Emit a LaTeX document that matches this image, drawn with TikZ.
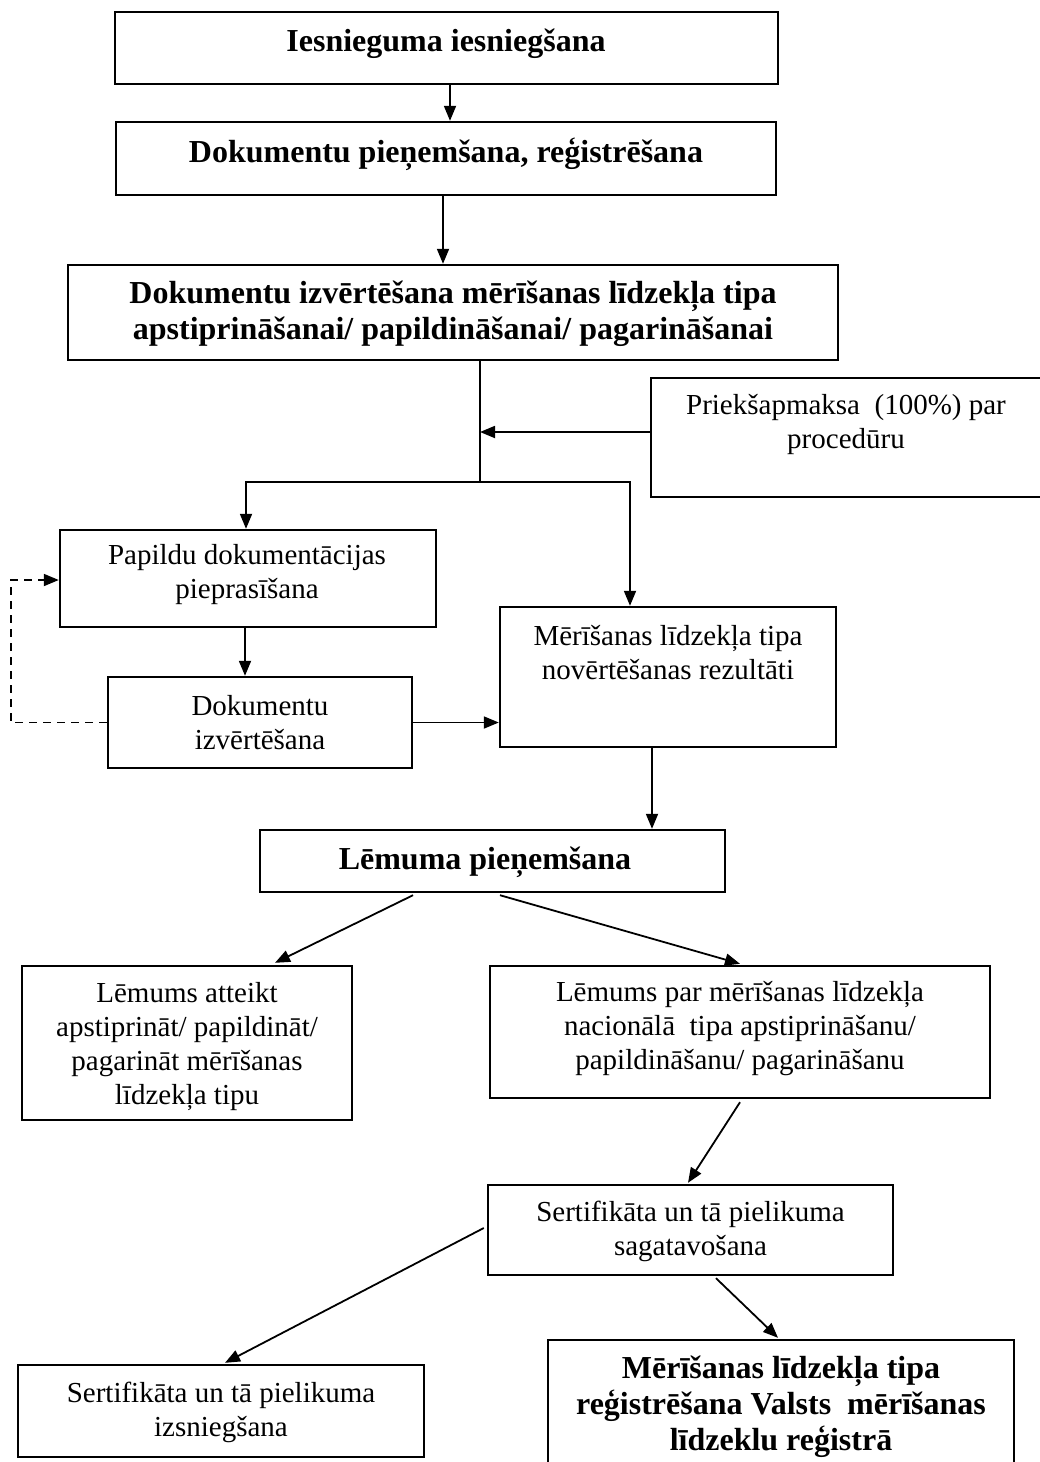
\documentclass[tikz,border=0pt]{standalone}
\usepackage{fontspec}
\setmainfont{Liberation Serif}
\usetikzlibrary{arrows.meta,calc}
\tikzset{
 box/.style={draw, line width=2.4pt, inner sep=0pt, rectangle},
 txt/.style={align=center, font=\fontsize{29}{34}\selectfont, inner sep=0pt},
 btxt/.style={align=center, font=\fontsize{32}{36}\selectfont\bfseries, inner sep=0pt},
 arr/.style={line width=1.8pt, -{Triangle[length=15pt,width=12pt]}},
 ln/.style={line width=1.8pt},
 dsh/.style={line width=1.8pt, dash pattern=on 8pt off 6pt, -{Triangle[length=15pt,width=12pt]}}
}
\begin{document}
\begin{tikzpicture}[x=1pt,y=-1pt]
\clip (0,0) rectangle (1040,1462);
\fill[white] (0,0) rectangle (1040,1462);
% boxes
\node[box, minimum width=663pt, minimum height=72pt] (b1) at (446.5,48) {};
\node[box, minimum width=660pt, minimum height=73pt] (b2) at (446,158.5) {};
\node[box, minimum width=770pt, minimum height=95pt] (b3) at (453,312.5) {};
\node[box, minimum width=395pt, minimum height=119pt] (pay) at (848.5,437.5) {};
\node[box, minimum width=376pt, minimum height=97pt] (b4) at (248,578.5) {};
\node[box, minimum width=304pt, minimum height=91pt] (b5) at (260,722.5) {};
\node[box, minimum width=336pt, minimum height=140pt] (b6) at (668,677) {};
\node[box, minimum width=465pt, minimum height=62pt] (b7) at (492.5,861) {};
\node[box, minimum width=330pt, minimum height=154pt] (b8) at (187,1043) {};
\node[box, minimum width=500pt, minimum height=132pt] (b9) at (740,1032) {};
\node[box, minimum width=405pt, minimum height=90pt] (b10) at (690.5,1230) {};
\node[box, minimum width=406pt, minimum height=92pt] (b11) at (221,1411) {};
\node[box, minimum width=466pt, minimum height=130pt] (b12) at (781,1405) {};
% texts
\node[btxt] (t1) at (446,44) {Iesnieguma iesniegšana};
\node[btxt] (t2) at (446,154) {Dokumentu pieņemšana, reģistrēšana};
\node[btxt] (t3) at (453,314) {Dokumentu izvērtēšana mērīšanas līdzekļa tipa\\apstiprināšanai/ papildināšanai/ pagarināšanai};
\node[txt] (tp) at (846,424) {Priekšapmaksa\ \ (100\%) par\\procedūru};
\node[txt] (t4) at (247,575) {Papildu dokumentācijas\\pieprasīšana};
\node[txt] (t5) at (260,723) {Dokumentu\\izvērtēšana};
\node[txt] (t6) at (668,652.5) {Mērīšanas līdzekļa tipa\\novērtēšanas rezultāti};
\node[btxt] (t7) at (485,862) {Lēmuma pieņemšana};
\node[txt] (t8) at (187,1046.5) {Lēmums atteikt\\apstiprināt/ papildināt/\\pagarināt mērīšanas\\līdzekļa tipu};
\node[txt] (t9) at (740,1029) {Lēmums par mērīšanas līdzekļa\\nacionālā\ \ tipa apstiprināšanu/\\papildināšanu/ pagarināšanu};
\node[txt] (t10) at (690.5,1231) {Sertifikāta un tā pielikuma\\sagatavošana};
\node[txt] (t11) at (221,1412) {Sertifikāta un tā pielikuma\\izsniegšana};
\node[btxt] (t12) at (781,1407) {Mērīšanas līdzekļa tipa\\reģistrēšana Valsts\ \ mērīšanas\\līdzeklu reģistrā};
% junctions
\coordinate (j1) at (480,482);
\coordinate (jp) at (480,432);
% connectors
\draw[arr] ($(b1.south)+(3.5,0)$) -- ($(b2.north)+(4,0)$);
\draw[arr] ($(b2.south)+(-3,0)$) -- ($(b3.north)+(-10,0)$);
\draw[ln] ($(b3.south)+(27,0)$) -- (j1);
\draw[arr] ($(pay.west)+(0,-5.5)$) -- (jp);
\draw[arr] (j1) -| ($(b4.north)+(-2,0)$);
\draw[arr] (j1) -| ($(b6.north)+(-38,0)$);
\draw[arr] ($(b4.south)+(-3,0)$) -- ($(b5.north)+(-15,0)$);
\draw[arr] (b5.east) -- (b6.west |- b5.east);
\draw[dsh] (b5.west) -- ++(-96,0) |- ($(b4.west)+(0,1.5)$);
\draw[arr] ($(b6.south)+(-16,0)$) -- ($(b7.north)+(159.5,0)$);
\draw[arr] ($(b7.south)+(-79.5,2)$) -- ($(b8.north)+(88,-2)$);
\draw[arr] ($(b7.south)+(7.5,2)$) -- ($(b9.north)+(0,-1)$);
\draw[arr] ($(b9.south)+(0,3)$) -- ($(b10.north)+(-2.5,-1)$);
\draw[arr] ($(b10.west)+(-3,-2)$) -- ($(b11.north)+(4,-1)$);
\draw[arr] ($(b10.south)+(25.5,2)$) -- ($(b12.north)+(-3,-1)$);
\end{tikzpicture}
\end{document}
